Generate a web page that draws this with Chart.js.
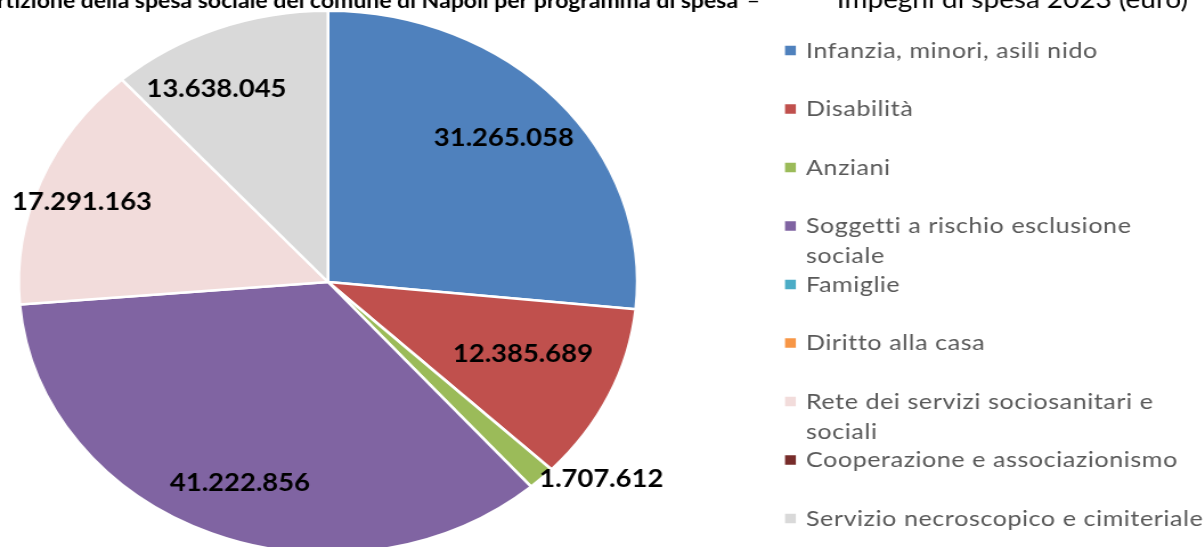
<!DOCTYPE html>
<html>
<head>
<meta charset="utf-8">
<script src="https://cdn.jsdelivr.net/npm/chart.js@4/dist/chart.umd.min.js"></script>
<style>
html,body{margin:0;padding:0;background:#fff;overflow:hidden;}
#wrap{position:relative;width:1204px;height:547px;overflow:hidden;background:#fff;}
#c{position:absolute;left:0;top:0;transform-origin:0 0;transform:scaleX(1.14);}
</style>
</head>
<body>
<div id="wrap"><canvas id="c" width="1056" height="547"></canvas></div>
<script>
const titleBold = "Ripartizione della spesa sociale del comune di Napoli per programma di spesa";
const titleDash = "\u2013";
const titleRegular = "Impegni di spesa 2023 (euro)";
const categories = [
  "Infanzia, minori, asili nido",
  "Disabilità",
  "Anziani",
  ["Soggetti a rischio esclusione", "sociale"],
  "Famiglie",
  "Diritto alla casa",
  ["Rete dei servizi sociosanitari e", "sociali"],
  "Cooperazione e associazionismo",
  "Servizio necroscopico e cimiteriale"
];
const values = [31265058, 12385689, 1707612, 41222856, 0, 0, 17291163, 0, 13638045];
const colors = ["#4F81BD", "#C0504D", "#9BBB59", "#8064A2", "#4BACC6", "#F79646", "#F2DCDB", "#772C2A", "#D9D9D9"];

function fmtIt(n) { return String(n).replace(/\B(?=(\d{3})+(?!\d))/g, "."); }

const titlePlugin = {
  id: 'mixedTitle',
  afterDraw(chart, args, o) {
    const ctx = chart.ctx;
    ctx.save();
    ctx.fillStyle = o.color;
    ctx.textBaseline = 'alphabetic';
    ctx.font = `bold ${o.boldSize}px ${o.family}`;
    ctx.textAlign = 'right';
    ctx.fillText(titleBold, o.boldEnd, o.baseline);
    ctx.font = `${o.boldSize}px ${o.family}`;
    ctx.textAlign = 'left';
    ctx.fillText(titleDash, o.dashX, o.baseline);
    ctx.font = `${o.regSize}px ${o.family}`;
    ctx.textAlign = 'right';
    ctx.fillText(titleRegular, o.regEnd, o.baseline);
    ctx.restore();
  }
};

const sideLegend = {
  id: 'sideLegend',
  afterDraw(chart, args, o) {
    const ctx = chart.ctx;
    const labels = chart.data.labels;
    const bg = chart.data.datasets[0].backgroundColor;
    ctx.save();
    ctx.font = `${o.size}px ${o.family}`;
    if ('letterSpacing' in ctx) ctx.letterSpacing = o.letterSpacing;
    ctx.textBaseline = 'middle';
    ctx.textAlign = 'left';
    labels.forEach((lab, i) => {
      const y = o.top + i * o.spacing;
      ctx.fillStyle = bg[i];
      ctx.fillRect(o.boxX, y - o.box / 2, o.box, o.box);
      ctx.fillStyle = o.color;
      const lines = Array.isArray(lab) ? lab : [lab];
      lines.forEach((ln, k) => ctx.fillText(ln, o.textX, y + o.textDy + k * o.lineHeight));
    });
    ctx.restore();
  }
};

const sliceLabels = {
  id: 'sliceLabels',
  afterDatasetsDraw(chart, args, o) {
    const ctx = chart.ctx;
    const meta = chart.getDatasetMeta(0);
    const data = chart.data.datasets[0].data;
    ctx.save();
    ctx.font = `bold ${o.size}px ${o.family}`;
    ctx.fillStyle = o.color;
    ctx.textBaseline = 'middle';
    meta.data.forEach((arc, i) => {
      const v = data[i];
      if (!v) return;
      const p = arc.getProps(['x', 'y', 'startAngle', 'endAngle', 'outerRadius'], true);
      const mid = (p.startAngle + p.endAngle) / 2;
      const f = o.radius[i];
      if (f === 'out') {
        const px = p.x + Math.cos(mid) * p.outerRadius;
        const py = p.y + Math.sin(mid) * p.outerRadius;
        ctx.textAlign = 'left';
        ctx.fillText(fmtIt(v), px - 2, py + 1);
      } else {
        const a = mid + (o.angleAdj[i] || 0);
        ctx.textAlign = 'center';
        ctx.fillText(fmtIt(v), p.x + Math.cos(a) * p.outerRadius * f, p.y + Math.sin(a) * p.outerRadius * f);
      }
    });
    ctx.restore();
  }
};

new Chart(document.getElementById('c'), {
  type: 'pie',
  data: {
    labels: categories,
    datasets: [{
      data: values,
      backgroundColor: colors,
      borderColor: '#FFFFFF',
      borderWidth: 2.5,
      hoverOffset: 0,
      offset: 0,
      clip: false
    }]
  },
  options: {
    responsive: false,
    animation: false,
    devicePixelRatio: 1,
    radius: 271.3,
    layout: { padding: { left: 10, top: 20, right: 490.6, bottom: 3 } },
    events: [],
    plugins: {
      legend: { display: false },
      tooltip: { enabled: false },
      title: { display: false },
      mixedTitle: { family: 'Lato', boldSize: 20.2, regSize: 24.5, color: '#000000', boldEnd: 647.4, dashX: 655, regEnd: 1042, baseline: 7.5 },
      sideLegend: { family: 'Lato', size: 22, letterSpacing: '0.5px', color: '#595959', top: 50.5, spacing: 58.5, box: 9.5, boxX: 688.6, textX: 707, textDy: 0, lineHeight: 30 },
      sliceLabels: { family: 'Lato', size: 24, color: '#000000',
        radius: [0.777, 0.684, 'out', 0.796, 0.8, 0.8, 0.848, 0.8, 0.797],
        angleAdj: [-0.015, -0.033, 0, -0.02, 0, 0, -0.026, 0, -0.105] }
    }
  },
  plugins: [titlePlugin, sideLegend, sliceLabels]
});
</script>
</body>
</html>
